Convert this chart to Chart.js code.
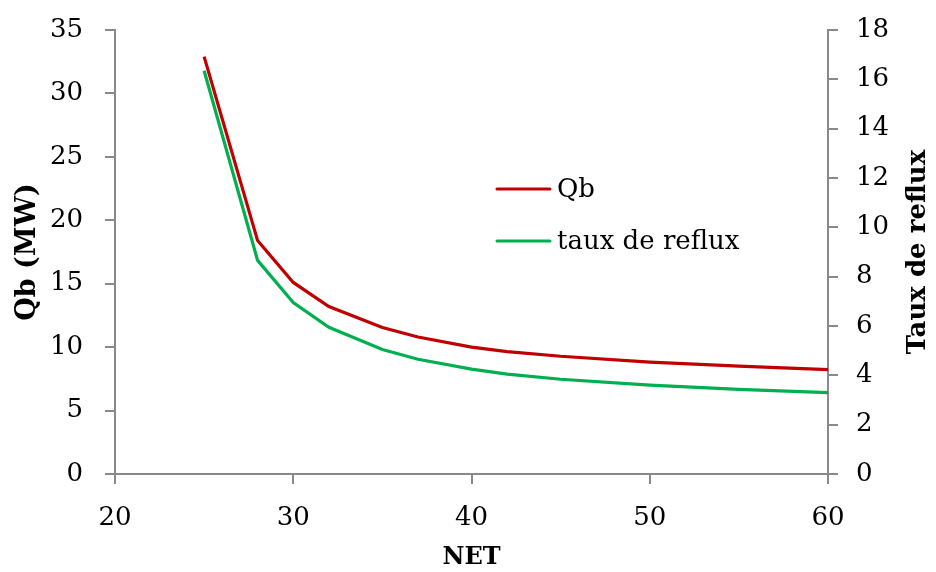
<!DOCTYPE html>
<html>
<head>
<meta charset="utf-8">
<script src="https://cdn.jsdelivr.net/npm/chart.js@4/dist/chart.umd.min.js"></script>
<style>
html,body{margin:0;padding:0;background:#fff;}
#wrap{width:936px;height:572px;}
</style>
</head>
<body>
<div id="wrap"><canvas id="c" width="936" height="572"></canvas></div>
<script>
const netValues    = [25, 28, 30, 32, 35, 37, 40, 42, 45, 50, 55, 60];
const qbValues     = [32.9, 18.4, 15.1, 13.2, 11.55, 10.8, 10.0, 9.65, 9.28, 8.82, 8.5, 8.22];
const refluxValues = [16.35, 8.66, 6.95, 5.95, 5.05, 4.65, 4.25, 4.05, 3.84, 3.6, 3.43, 3.3];
const seriesNames  = ['Qb', 'taux de reflux'];
const xTitle = 'NET';
const yLeftTitle = 'Qb (MW)';
const yRightTitle = 'Taux de reflux';

const FONT = "'DejaVu Serif', serif";
const AXIS = '#898989';

const legendPlugin = {
  id: 'inlineLegend',
  afterDraw(chart) {
    const ctx = chart.ctx;
    const x0 = 497, x1 = 550, tx = 557;
    const ys = [189, 241];
    ctx.save();
    chart.data.datasets.forEach((ds, i) => {
      ctx.strokeStyle = ds.borderColor;
      ctx.lineWidth = 3;
      ctx.lineCap = 'round';
      ctx.beginPath();
      ctx.moveTo(x0, ys[i]);
      ctx.lineTo(x1, ys[i]);
      ctx.stroke();
      ctx.fillStyle = '#000';
      ctx.font = "26px " + FONT;
      ctx.textBaseline = 'middle';
      ctx.textAlign = 'left';
      ctx.fillText(ds.label, tx, ys[i] + 1);
    });
    // right axis title, reading bottom-to-top
    const a = chart.chartArea;
    ctx.translate(918, (a.top + a.bottom) / 2);
    ctx.rotate(-Math.PI / 2);
    ctx.font = "bold 26px " + FONT;
    ctx.textAlign = 'center';
    ctx.textBaseline = 'middle';
    ctx.fillText(yRightTitle, 0, 0);
    ctx.restore();
  }
};

function fixY(width) {
  return function (s) { s.width = width; s.paddingTop = 0; s.paddingBottom = 0; };
}

new Chart(document.getElementById('c'), {
  type: 'line',
  data: {
    datasets: [
      {
        label: seriesNames[0],
        data: netValues.map((n, i) => ({x: n, y: qbValues[i]})),
        borderColor: '#C00000',
        borderWidth: 3.2,
        pointRadius: 0,
        tension: 0,
        yAxisID: 'y'
      },
      {
        label: seriesNames[1],
        data: netValues.map((n, i) => ({x: n, y: refluxValues[i]})),
        borderColor: '#00B050',
        borderWidth: 3.2,
        pointRadius: 0,
        tension: 0,
        yAxisID: 'y1'
      }
    ]
  },
  options: {
    responsive: false,
    animation: false,
    layout: {padding: {top: 30, left: 0, right: 0, bottom: 0}},
    plugins: {legend: {display: false}, tooltip: {enabled: false}},
    scales: {
      x: {
        type: 'linear',
        min: 20, max: 60,
        ticks: {stepSize: 10, color: '#000', font: {family: FONT, size: 26}, padding: 19},
        grid: {drawOnChartArea: false, drawTicks: true, tickLength: 10, color: AXIS, lineWidth: 2},
        border: {color: AXIS, width: 2},
        title: {display: true, text: xTitle, color: '#000', font: {family: FONT, size: 24, weight: 'bold'}, padding: {top: 0, bottom: 0}},
        afterFit(s) { s.height = 98; s.paddingLeft = 0; s.paddingRight = 0; }
      },
      y: {
        position: 'left',
        min: 0, max: 35,
        ticks: {stepSize: 5, color: '#000', font: {family: FONT, size: 26}, padding: 22},
        grid: {drawOnChartArea: false, drawTicks: true, tickLength: 10, color: AXIS, lineWidth: 2},
        border: {color: AXIS, width: 2},
        title: {display: true, text: yLeftTitle, color: '#000', font: {family: FONT, size: 27, weight: 'bold'}, padding: {top: 12, bottom: 0}},
        afterFit: fixY(115)
      },
      y1: {
        position: 'right',
        min: 0, max: 18,
        ticks: {stepSize: 2, color: '#000', font: {family: FONT, size: 26}, padding: 18},
        grid: {drawOnChartArea: false, drawTicks: true, tickLength: 10, color: AXIS, lineWidth: 2},
        border: {color: AXIS, width: 2},
        title: {display: false, text: yRightTitle},
        afterFit: fixY(108)
      }
    }
  },
  plugins: [legendPlugin]
});
</script>
</body>
</html>
